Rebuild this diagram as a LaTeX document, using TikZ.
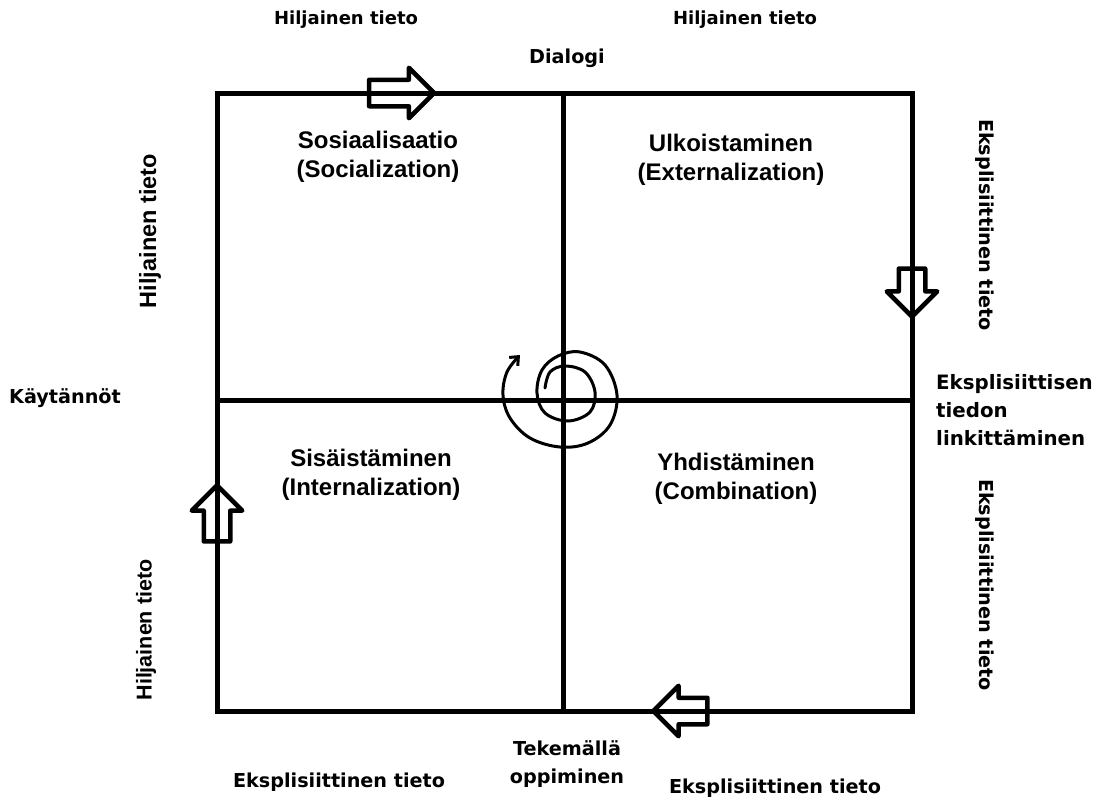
\documentclass[tikz,border=0pt]{standalone}
\usepackage{fontspec}
\setmainfont{DejaVu Sans}
\newfontfamily\quadfont{Liberation Sans}
\usetikzlibrary{shapes.arrows,arrows.meta}

\tikzset{
  outlabel/.style={font=\bfseries\fontsize{19.2}{28}\selectfont, inner sep=0pt},
  sidelabel/.style={font=\quadfont\bfseries\fontsize{23.5}{26}\selectfont, inner sep=0pt},
  quadlabel/.style={font=\quadfont\bfseries\fontsize{24}{29}\selectfont, align=center, inner sep=0pt},
  blockarrow/.style={single arrow, draw, line width=4.5pt, line join=round, inner sep=11pt,
    single arrow head extend=12pt, fill=none},
}

\begin{document}
\begin{tikzpicture}[x=1pt,y=-1pt]

        \useasboundingbox (0,0) rectangle (1106,801);

        % corners of the grid
        \coordinate (tl) at (217,93);
        \coordinate (tm) at (563,93);
        \coordinate (tr) at (912,93);
        \coordinate (ml) at (217,400);
        \coordinate (mr) at (912,400);
        \coordinate (bl) at (217,711);
        \coordinate (bm) at (563,711);
        \coordinate (br) at (912,711);

        \begin{scope}[line width=5pt]
          \draw (tl) -- (tr) -- (br) -- (bl) -- cycle;
          \path (tm) edge (bm);
          \path (ml) edge (mr);
        \end{scope}

        \begin{scope}[every node/.style={blockarrow}]
          \node[minimum height=65pt]              (artop)   at (395,93)  {};
          \node[minimum height=48pt, rotate=-90]  (arright) at (912,286) {};
          \node[minimum height=56pt, rotate=90]   (arleft)  at (217,520) {};
          \node[minimum height=54pt, rotate=180]  (arbot)   at (687,711) {};
        \end{scope}

        % spiral
        \coordinate (spstart) at (545,388);
        \coordinate (spend) at (520,355);
        \draw[line width=3pt, line cap=round, -{Straight Barb[length=7pt,width=12pt]}]
          plot[smooth, tension=0.6] coordinates {
            (spstart) (550,372) (565,366) (585,372) (595,392) (590,412)
            (568,421) (545,413) (537,393) (542,370) (558,356) (580,352)
            (605,365) (617,395) (610,425) (588,443) (560,447) (530,438)
            (510,418) (503,395) (507,372) (spend)};

        \begin{scope}[every node/.style={quadlabel}]
          \node (sos) at (378,157) {Sosiaalisaatio\\(Socialization)};
          \node (ulk) at (731,160) {Ulkoistaminen\\(Externalization)};
          \node (sis) at (371,475) {Sisäistäminen\\(Internalization)};
          \node (yhd) at (736,479) {Yhdistäminen\\(Combination)};
        \end{scope}

        \begin{scope}[every node/.style={sidelabel, rotate=90}]
          \node (hlu) at (150,231) {Hiljainen tieto};
          \node[font=\quadfont\bfseries\fontsize{21.5}{24}\selectfont] (hll) at (146,630) {Hiljainen tieto};
        \end{scope}

        \begin{scope}[every node/.style={outlabel}]
          \node[font=\bfseries\fontsize{18}{20}\selectfont] (htl) at (346,20) {Hiljainen tieto};
          \node[font=\bfseries\fontsize{18}{20}\selectfont] (htr) at (745,20) {Hiljainen tieto};
          \node (dia)  at (567,58)  {Dialogi};
          \node (kay)  at (65,398)  {Käytännöt};
          \node[rotate=-90] (eru) at (985,225) {Eksplisiittinen tieto};
          \node[rotate=-90] (erl) at (985,585) {Eksplisiittinen tieto};
          \node[anchor=west, align=left, font=\bfseries\fontsize{19.8}{28}\selectfont]
            (link) at (936,410) {Eksplisiittisen\\tiedon\\linkittäminen};
          \node[align=center] (tek) at (567,764) {Tekemällä\\oppiminen};
          \node (ebl) at (339,782) {Eksplisiittinen tieto};
          \node (ebr) at (775,788) {Eksplisiittinen tieto};
        \end{scope}

      \end{tikzpicture}
\end{document}
